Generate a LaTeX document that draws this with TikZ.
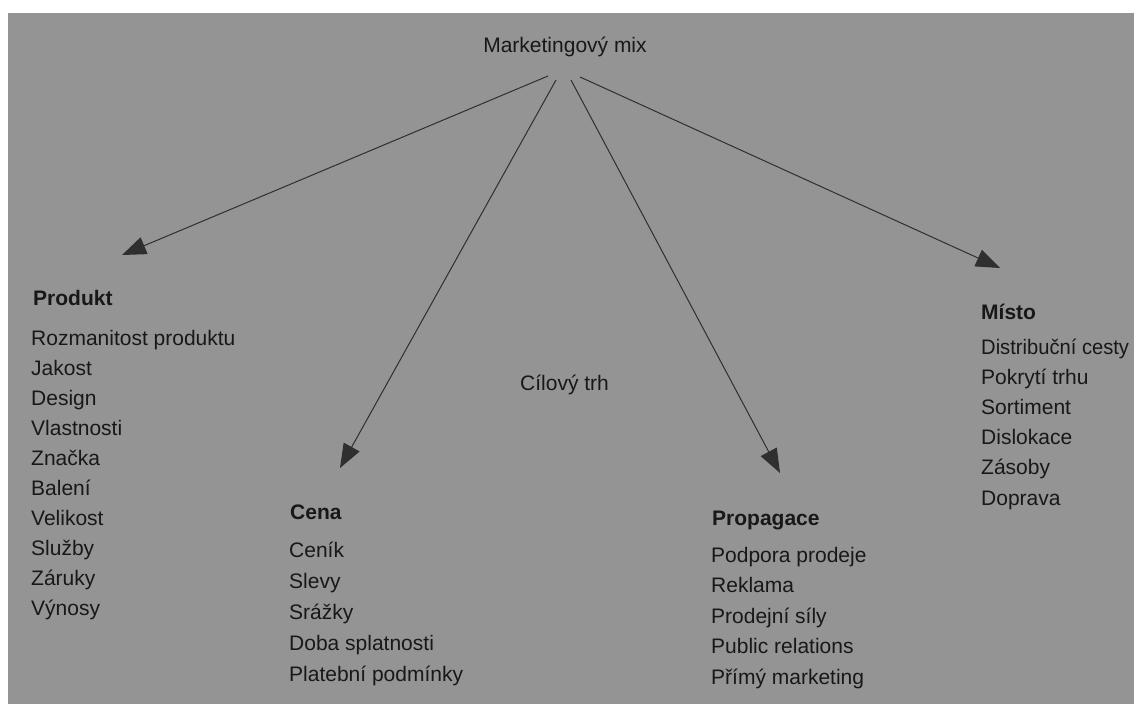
\documentclass[tikz,border=0pt]{standalone}
\usepackage{fontspec}
\setmainfont{Liberation Sans}
\usetikzlibrary{arrows.meta}
\definecolor{bggray}{RGB}{148,148,148}
\definecolor{ink}{RGB}{24,24,24}
\begin{document}
\begin{tikzpicture}[x=1pt,y=-1pt,
  txt/.style={anchor=base west,inner sep=0pt,text=ink,font=\fontsize{21}{25}\selectfont},
  head/.style={txt,font=\fontsize{21}{25}\selectfont\bfseries},
  arr/.style={draw=ink!90,line width=1pt,-{Triangle[length=24pt,width=18pt]}}]
\useasboundingbox (0,0) rectangle (1134,704);
\fill[white] (0,0) rectangle (1134,704);
\fill[bggray] (8,13) rectangle (1134,704);

\node[txt,anchor=base] (mix) at (565,52) {Marketingový mix};
\node[txt] (trh) at (520,390) {Cílový trh};

% Produkt
\node[head] (produkt) at (33,305) {Produkt};
\foreach \t [count=\i] in {Rozmanitost produktu,Jakost,Design,Vlastnosti,Značka,Balení,Velikost,Služby,Záruky,Výnosy}
  \node[txt] (pr\i) at (31,{345+30*(\i-1)}) {\t};

% Cena
\node[head] (cena) at (290,519) {Cena};
\foreach \t [count=\i] in {Ceník,Slevy,Srážky,Doba splatnosti,Platební podmínky}
  \node[txt] (ce\i) at (289,{557+31*(\i-1)}) {\t};

% Propagace
\node[head] (propagace) at (712,525) {Propagace};
\foreach \t [count=\i] in {Podpora prodeje,Reklama,Prodejní síly,Public relations,Přímý marketing}
  \node[txt] (pg\i) at (711,{562+30.5*(\i-1)}) {\t};

% Misto
\node[head] (misto) at (981,319) {Místo};
\node[txt,xscale=0.96] (mi1) at (981,354) {Distribuční cesty};
\foreach \t [count=\i from 2] in {Pokrytí trhu,Sortiment,Dislokace,Zásoby,Doprava}
  \node[txt] (mi\i) at (981,{354+30.2*(\i-1)}) {\t};

% arrows
\coordinate (s1) at (548,76);
\coordinate (s2) at (556,80);
\coordinate (s3) at (571,80);
\coordinate (s4) at (580,77);
\coordinate (t1) at (122,255);
\coordinate (t2) at (340,468);
\coordinate (t3) at (780,473);
\coordinate (t4) at (1000,268);
\draw[arr] (s1) -- (t1);
\draw[arr] (s2) -- (t2);
\draw[arr] (s3) -- (t3);
\draw[arr] (s4) -- (t4);
\end{tikzpicture}
\end{document}
